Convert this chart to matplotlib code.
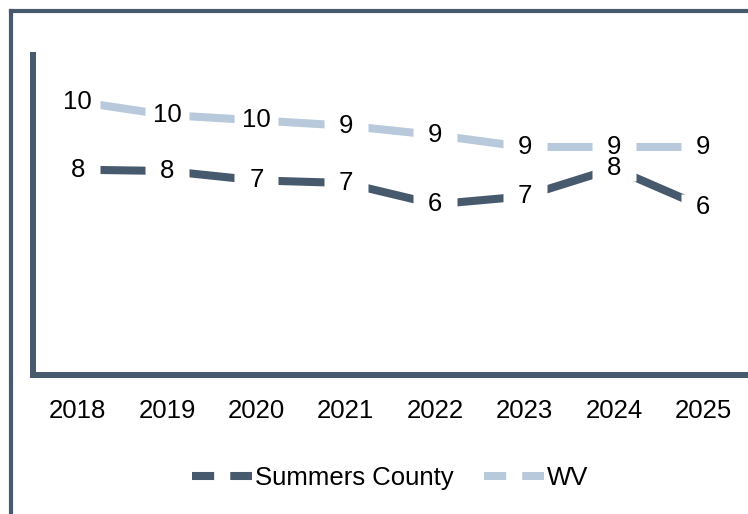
import matplotlib.pyplot as plt
from matplotlib.lines import Line2D
from matplotlib.path import Path

# Data (values estimated from the chart, labels shown rounded)
years = ['2018', '2019', '2020', '2021', '2022', '2023', '2024', '2025']
summers = [7.7, 7.65, 7.3, 7.2, 6.4, 6.7, 7.75, 6.3]
wv = [10.25, 9.75, 9.55, 9.35, 9.0, 8.55, 8.55, 8.55]
summers_lbl = ['8', '8', '7', '7', '6', '7', '8', '6']
wv_lbl = ['10', '10', '10', '9', '9', '9', '9', '9']

dark = '#475a6d'
light = '#b7c9da'

plt.rcParams['font.family'] = ['Liberation Sans', 'DejaVu Sans']
fs = 18.5

fig = plt.figure(figsize=(7.48, 5.14), dpi=100)
ax = fig.add_axes([33 / 748, 139 / 514, 715 / 748, 320 / 514])

x = range(len(years))
lw = 5.8
ax.plot(x, wv, color=light, lw=lw, solid_capstyle='butt', zorder=2)
ax.plot(x, summers, color=dark, lw=lw, solid_capstyle='butt', zorder=2)

# white box markers cut the lines where the data labels sit
box = Path([(-1, -0.6), (1, -0.6), (1, 0.6), (-1, 0.6), (-1, -0.6)])
for vals in [wv, summers]:
    ax.plot(x, vals, linestyle='none', marker=box, ms=32, mfc='white',
            mec='none', zorder=3)

for vals, lbls in [(wv, wv_lbl), (summers, summers_lbl)]:
    for xi, v, t in zip(x, vals, lbls):
        ax.text(xi, v, t, ha='center', va='center', fontsize=fs, zorder=4)

ax.set_xlim(-0.5, len(years) - 0.5)
ax.set_ylim(0, 12)
ax.set_xticks(list(x))
ax.set_xticklabels(years, fontsize=fs)
ax.set_yticks([])
ax.tick_params(axis='x', length=0, pad=17)
for s in ['top', 'right']:
    ax.spines[s].set_visible(False)
for s in ['left', 'bottom']:
    ax.spines[s].set_color(dark)
    ax.spines[s].set_linewidth(4.3)

# legend with dashed handles
handles = [
    Line2D([], [], color=dark, lw=lw, dashes=(2.75, 2.0)),
    Line2D([], [], color=light, lw=lw, dashes=(2.75, 2.0)),
]
fig.legend(handles, ['Summers County', 'WV'], loc='center',
           bbox_to_anchor=(390 / 748, 1 - 478 / 514), ncol=2, frameon=False,
           fontsize=fs, handlelength=2.35, handletextpad=0.1, columnspacing=1.2)

# outer frame (top and left edges)
fig.add_artist(Line2D([11 / 748, 11 / 748], [0, 1 - 11 / 514], color=dark,
                      lw=3, transform=fig.transFigure))
fig.add_artist(Line2D([11 / 748, 1], [1 - 11 / 514, 1 - 11 / 514], color=dark,
                      lw=3, solid_capstyle='projecting', transform=fig.transFigure))

fig.savefig('out.png', dpi=100)
